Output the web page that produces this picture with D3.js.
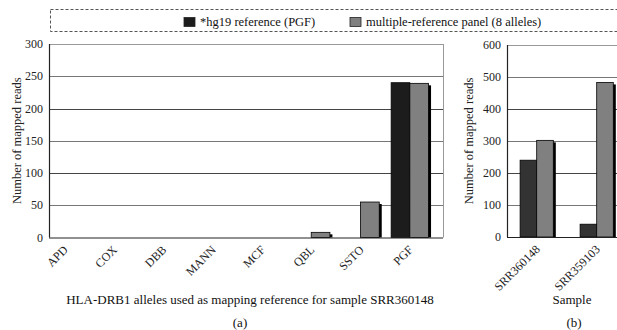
<!DOCTYPE html>
<html>
<head>
<meta charset="utf-8">
<script src="https://cdn.jsdelivr.net/npm/d3@7"></script>
<style>
  body { margin: 0; background: #fff; }
  text { font-family: 'Liberation Serif', 'DejaVu Serif', serif; }
</style>
</head>
<body>
<svg id="chart" width="617" height="330"></svg>
<script>
// data
let alleles = ['APD', 'COX', 'DBB', 'MANN', 'MCF', 'QBL', 'SSTO', 'PGF'];
let hg19ByAllele = [0, 0, 0, 0, 0, 0, 0, 240];
let panelByAllele = [0, 0, 0, 0, 0, 8, 55, 239];
let yTicksA = [0, 50, 100, 150, 200, 250, 300];

let samples = ['SRR360148', 'SRR359103'];
let hg19BySample = [240, 40];
let panelBySample = [302, 483];
let yTicksB = [0, 100, 200, 300, 400, 500, 600];

let seriesNames = ['*hg19 reference (PGF)', 'multiple-reference panel (8 alleles)'];

let svg = d3.select('#chart');
let grey = '#808080';
let serif = "'Liberation Serif', 'DejaVu Serif', serif";

// legend
svg.append('rect')
  .attr('x', 50.5).attr('y', 9.5)
  .attr('width', 600).attr('height', 22)
  .style('fill', 'none')
  .style('stroke', '#555')
  .style('stroke-width', 1)
  .style('stroke-dasharray', '3,2');

let legendX = [184, 350];
let legendCol = ['#1c1c1c', grey];
seriesNames.forEach((name, i) => {
  svg.append('rect')
    .attr('x', legendX[i]).attr('y', 17.5)
    .attr('width', 11).attr('height', 9)
    .style('fill', legendCol[i])
    .style('stroke', '#222').style('stroke-width', 0.8);
  svg.append('text')
    .attr('x', legendX[i] + 16).attr('y', 26)
    .attr('font-family', serif)
    .style('font-size', '12.5px').style('fill', '#111')
    .text(name);
});

function drawPanel(opts) {
  let g = svg.append('g').attr('font-family', serif);
  let y = d3.scaleLinear().domain([0, opts.yMax]).range([opts.bottom, opts.top]);
  let x = d3.scaleBand().domain(opts.cats).range(opts.xRange);
  let inner = d3.scaleBand().domain(['hg19', 'panel']).range([-opts.barW, opts.barW]);

  // grid
  g.selectAll('line.grid')
    .data(opts.ticks.filter(t => t > 0 && t < opts.yMax))
    .enter().append('line')
    .attr('class', 'grid')
    .attr('x1', opts.left).attr('x2', opts.right)
    .attr('y1', d => Math.round(y(d)) + 0.5).attr('y2', d => Math.round(y(d)) + 0.5)
    .style('stroke', (d, i) => i % 2 ? '#444' : '#777')
    .style('stroke-width', 1.2);

  // frame: top + right light, left + bottom dark
  g.append('line')
    .attr('x1', opts.left).attr('x2', opts.right)
    .attr('y1', opts.top + 0.5).attr('y2', opts.top + 0.5)
    .style('stroke', '#999');
  g.append('line')
    .attr('x1', opts.right + 0.5).attr('x2', opts.right + 0.5)
    .attr('y1', opts.top).attr('y2', opts.bottom)
    .style('stroke', '#999');

  let rows = opts.cats.map((c, i) => ({cat: c, hg19: opts.hg19[i], panel: opts.panel[i]}));

  // drop shadow behind the grey bars
  g.selectAll('rect.shadow')
    .data(rows.filter(d => d.panel > 0))
    .enter().append('rect')
    .attr('class', 'shadow')
    .attr('x', d => x(d.cat) + x.bandwidth() / 2 + inner('panel') + 2.5)
    .attr('y', d => y(d.panel) + 2)
    .attr('width', inner.bandwidth())
    .attr('height', d => opts.bottom - y(d.panel) - 2)
    .style('fill', '#000');

  g.selectAll('rect.hg19')
    .data(rows.filter(d => d.hg19 > 0))
    .enter().append('rect')
    .attr('class', 'hg19')
    .attr('x', d => x(d.cat) + x.bandwidth() / 2 + inner('hg19'))
    .attr('y', d => y(d.hg19))
    .attr('width', inner.bandwidth())
    .attr('height', d => opts.bottom - y(d.hg19))
    .style('fill', opts.darkCol)
    .style('stroke', '#000').style('stroke-width', 0.8);

  g.selectAll('rect.panel')
    .data(rows.filter(d => d.panel > 0))
    .enter().append('rect')
    .attr('class', 'panel')
    .attr('x', d => x(d.cat) + x.bandwidth() / 2 + inner('panel'))
    .attr('y', d => y(d.panel))
    .attr('width', inner.bandwidth())
    .attr('height', d => opts.bottom - y(d.panel))
    .style('fill', grey)
    .style('stroke', '#000').style('stroke-width', 0.8);

  // axes lines
  g.append('line')
    .attr('x1', opts.left + 0.5).attr('x2', opts.left + 0.5)
    .attr('y1', opts.top).attr('y2', opts.bottom)
    .style('stroke', '#222').style('stroke-width', 1.2);
  g.append('line')
    .attr('x1', opts.left).attr('x2', opts.right)
    .attr('y1', opts.bottom + 0.5).attr('y2', opts.bottom + 0.5)
    .style('stroke', '#222').style('stroke-width', 1.2);

  // y tick labels
  g.selectAll('text.ytick')
    .data(opts.ticks)
    .enter().append('text')
    .attr('class', 'ytick')
    .attr('x', opts.left - 6)
    .attr('y', d => y(d) + 4)
    .attr('text-anchor', 'end')
    .style('font-size', '12px').style('fill', '#222')
    .text(d => d);

  // x labels, rotated
  g.selectAll('text.xlab')
    .data(opts.cats)
    .enter().append('text')
    .attr('class', 'xlab')
    .attr('text-anchor', 'end')
    .attr('transform', d => `translate(${x(d) + x.bandwidth() / 2 + opts.labDx},${opts.bottom + 13}) rotate(-45)`)
    .style('font-size', '12px').style('fill', '#222')
    .text(d => d);

  // y title
  g.append('text')
    .attr('transform', `translate(${opts.yTitleX},${(opts.top + opts.bottom) / 2}) rotate(-90)`)
    .attr('text-anchor', 'middle')
    .style('font-size', '12.5px').style('fill', '#222')
    .text('Number of mapped reads');

  g.append('text')
    .attr('x', opts.titleX).attr('y', 304)
    .attr('text-anchor', 'middle')
    .style('font-size', '13px').style('fill', '#111')
    .text(opts.title);
  g.append('text')
    .attr('x', opts.subX).attr('y', 327)
    .attr('text-anchor', 'middle')
    .style('font-size', '13px').style('fill', '#111')
    .text(opts.sub);
}

drawPanel({
  cats: alleles, hg19: hg19ByAllele, panel: panelByAllele,
  ticks: yTicksA, yMax: 300,
  left: 49, right: 443, top: 44, bottom: 237.5,
  xRange: [40, 434.5], barW: 18.7, darkCol: '#1c1c1c',
  labDx: 4, yTitleX: 21,
  title: 'HLA-DRB1 alleles used as mapping reference for sample SRR360148', titleX: 250,
  sub: '(a)', subX: 240
});

drawPanel({
  cats: samples, hg19: hg19BySample, panel: panelBySample,
  ticks: yTicksB, yMax: 600,
  left: 507, right: 640, top: 45, bottom: 237,
  xRange: [506.7, 626.7], barW: 16.6, darkCol: '#333',
  labDx: 4, yTitleX: 473,
  title: 'Sample', titleX: 572,
  sub: '(b)', subX: 574
});
</script>
</body>
</html>
